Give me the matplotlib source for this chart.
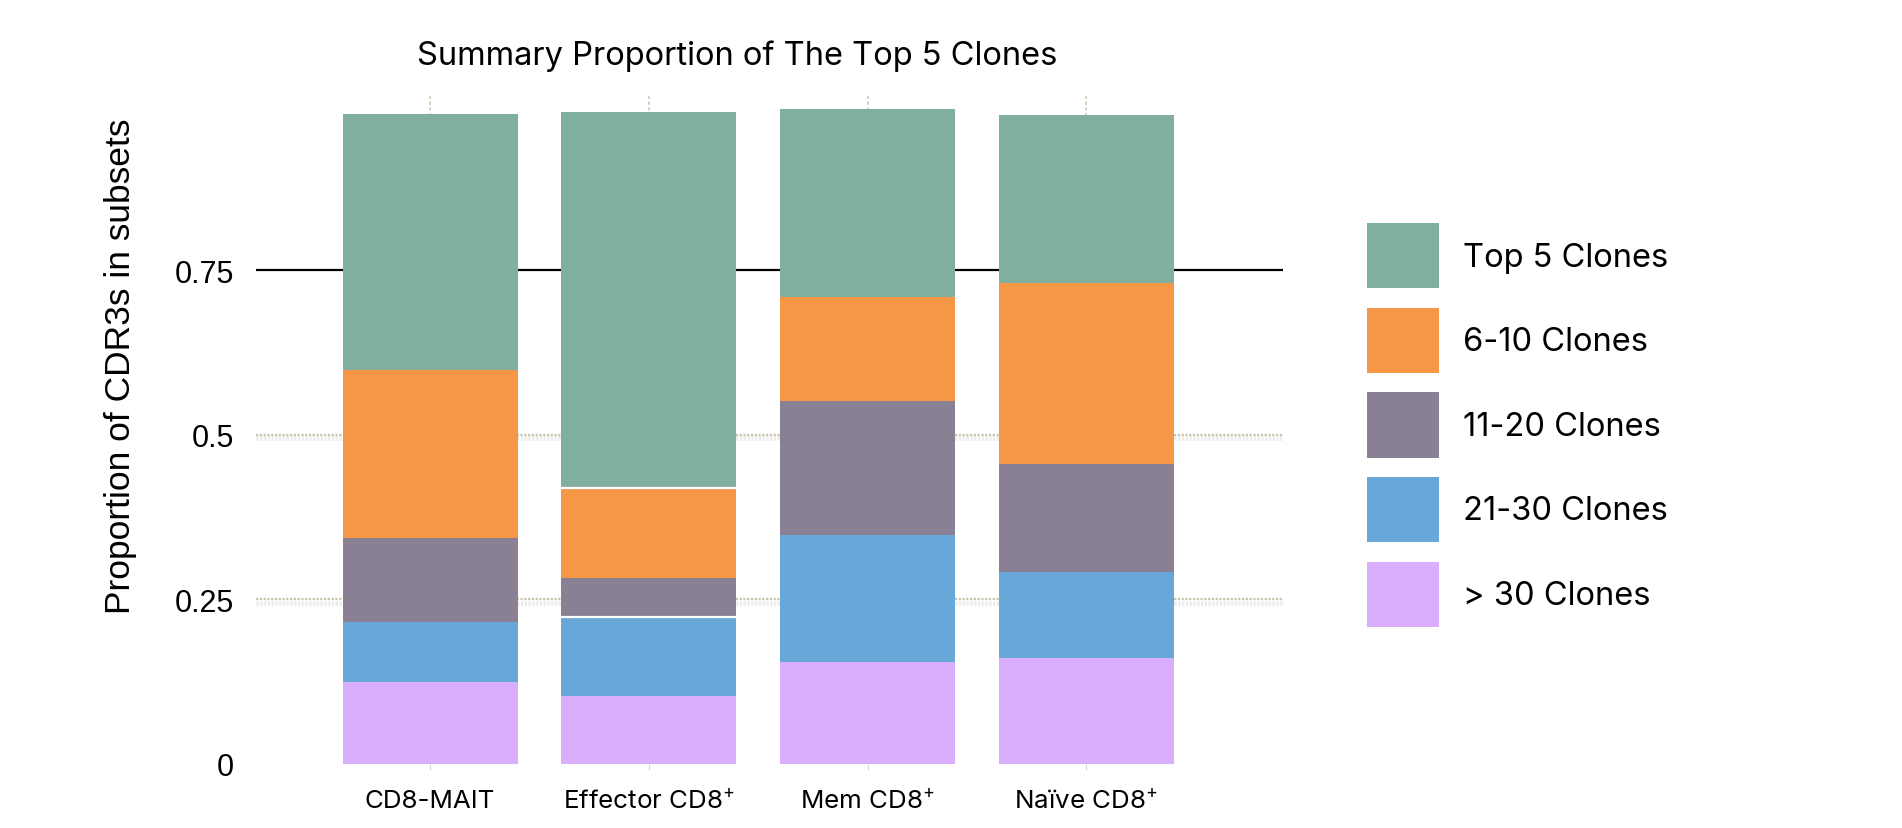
import matplotlib
matplotlib.use("Agg")
import matplotlib.pyplot as plt
import matplotlib.patheffects as pe
from matplotlib.patches import Patch
import numpy as np

# proportions of CDR3s per subset, split by clone rank
subsets = ["CD8-MAIT", "Effector CD8$^{+}$", "Mem CD8$^{+}$", "Naïve CD8$^{+}$"]
top5 = [0.389, 0.572, 0.286, 0.256]
clones_6_10 = [0.255, 0.137, 0.158, 0.274]
clones_11_20 = [0.128, 0.059, 0.204, 0.164]
clones_21_30 = [0.091, 0.120, 0.192, 0.131]
clones_over30 = [0.124, 0.103, 0.155, 0.161]

series_names = ["Top 5 Clones", "6-10 Clones", "11-20 Clones", "21-30 Clones", "> 30 Clones"]
series_vals = [top5, clones_6_10, clones_11_20, clones_21_30, clones_over30]
colors = ["#80AF9E", "#F69748", "#898193", "#68A7D8", "#D9AEFC"]

yticks = [0, 0.25, 0.5, 0.75]
ytick_labels = ["0", "0.25", "0.5", "0.75"]

plt.rcParams["mathtext.default"] = "regular"
label_font = ["Inter", "DejaVu Sans"]
num_font = ["Liberation Sans", "DejaVu Sans"]

fig = plt.figure(figsize=(19.02, 8.29), dpi=100)
ax = fig.add_axes([0.1346, 0.0776, 0.540, 0.8054])

x = np.arange(len(subsets))
width = 0.8
bottom = np.zeros(len(subsets))
# stack from the > 30 group at the bottom up to the top 5
for name, vals, col in reversed(list(zip(series_names, series_vals, colors))):
    ax.bar(x, vals, width=width, bottom=bottom, color=col, linewidth=0, zorder=2)
    bottom += np.array(vals)

# thin white separators on the effector column
eff = 1
sep = [clones_over30[eff] + clones_21_30[eff],
       clones_over30[eff] + clones_21_30[eff] + clones_11_20[eff] + clones_6_10[eff]]
ax.hlines(sep, eff - width / 2, eff + width / 2, colors="white", linewidth=1.6, zorder=3)

ax.set_xlim(-0.796, 3.9)
ax.set_ylim(0, 1.015)
ax.set_axisbelow(True)

ax.set_yticks(yticks)
ax.set_yticklabels(ytick_labels, fontsize=22, family=num_font)
ax.set_xticks(x)
ax.set_xticklabels(subsets, fontsize=18.7, family=label_font)
ax.tick_params(axis="y", length=0, pad=16)
ax.tick_params(axis="x", length=4, color="#D8D8D8", pad=14)

ax.grid(axis="x", color="#CFC9B0", linestyle=(0, (2, 1.5)), linewidth=1.2)
ax.grid(axis="y", color="#C9C5AA", linestyle=(0, (1, 0.7)), linewidth=1.6)
shadow = [pe.SimpleLineShadow(offset=(0, -2.5), shadow_color="#A0A0A0", alpha=0.2, linewidth=3.5), pe.Normal()]
for val, gl in zip(yticks, ax.get_ygridlines()):
    if val == 0:
        gl.set_visible(False)
    elif val == 0.75:
        gl.set_color("black")
        gl.set_linestyle("-")
        gl.set_linewidth(1.6)
    else:
        gl.set_path_effects(shadow)

for s in ax.spines.values():
    s.set_visible(False)

ax.set_ylabel("Proportion of CDR3s in subsets", fontsize=25.5, family=num_font)
ax.yaxis.set_label_coords(-0.116, 0.597)
fig.text(0.3875, 0.932, "Summary Proportion of The Top 5 Clones", fontsize=23.5,
         family=label_font, ha="center", va="center")

handles = [Patch(facecolor=c, edgecolor="none") for c in colors]
fig.legend(handles, series_names, loc="center left", bbox_to_anchor=(0.7187, 0.4861),
           frameon=False, prop={"family": label_font, "size": 23.5},
           handlelength=2.21, handleheight=2.69, labelspacing=0.6, handletextpad=0.72,
           borderpad=0, borderaxespad=0)

fig.savefig("out.png", dpi=100)
